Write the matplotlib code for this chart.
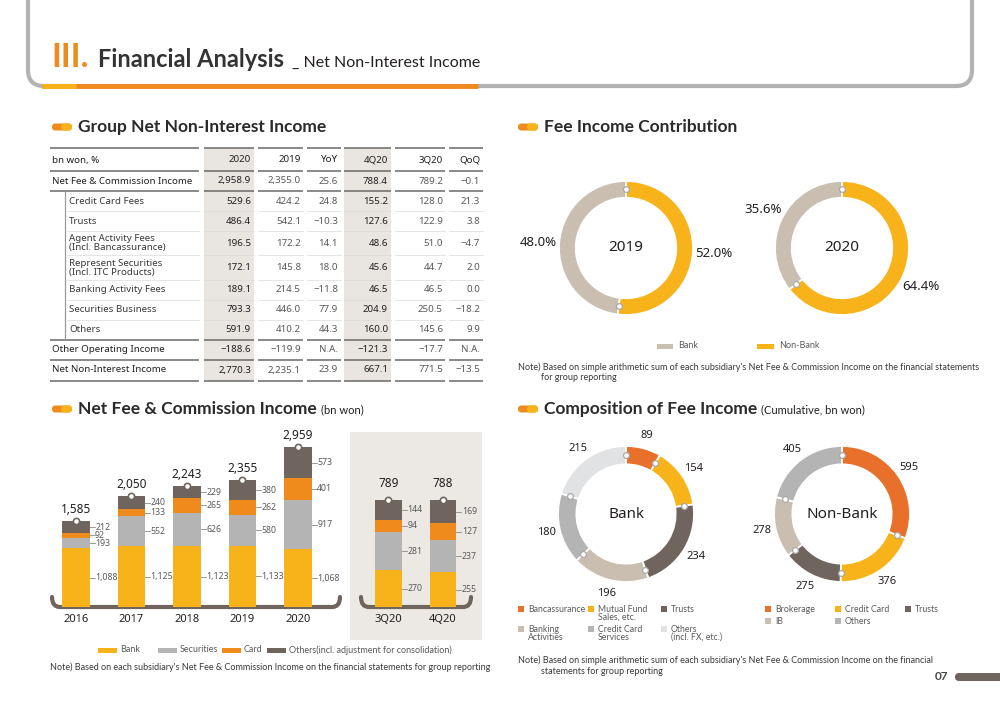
import matplotlib
matplotlib.use('Agg')
import matplotlib.pyplot as plt
from matplotlib.patches import Rectangle, FancyBboxPatch, PathPatch
from matplotlib.path import Path
import numpy as np

plt.rcParams['font.family'] = ['Noto Sans', 'DejaVu Sans']
HEAD = ['Lato', 'DejaVu Sans']

W, H = 1000, 707

YELLOW = '#f9b31a'
ORANGE = '#ef8a1d'
DEEP_ORANGE = '#e9702b'
GREY = '#b4b4b4'
DARK = '#6f655e'
BEIGE = '#c9beb0'
LIGHT = '#e1e2e4'
TXT = '#231f20'
SUB = '#5a5a5a'
PANEL = '#ece9e4'

# ---- table data ----
tbl_cols = ['2020', '2019', 'YoY', '4Q20', '3Q20', 'QoQ']
tbl_rows = ['Net Fee & Commission Income', 'Credit Card Fees', 'Trusts',
            'Agent Activity Fees\n(Incl. Bancassurance)',
            'Represent Securities\n(Incl. ITC Products)',
            'Banking Activity Fees', 'Securities Business', 'Others',
            'Other Operating Income', 'Net Non-Interest Income']
v2020 = ['2,958.9', '529.6', '486.4', '196.5', '172.1', '189.1', '793.3', '591.9', '−188.6', '2,770.3']
v2019 = ['2,355.0', '424.2', '542.1', '172.2', '145.8', '214.5', '446.0', '410.2', '−119.9', '2,235.1']
yoy = ['25.6', '24.8', '−10.3', '14.1', '18.0', '−11.8', '77.9', '44.3', 'N.A.', '23.9']
v4q20 = ['788.4', '155.2', '127.6', '48.6', '45.6', '46.5', '204.9', '160.0', '−121.3', '667.1']
v3q20 = ['789.2', '128.0', '122.9', '51.0', '44.7', '46.5', '250.5', '145.6', '−17.7', '771.5']
qoq = ['−0.1', '21.3', '3.8', '−4.7', '2.0', '0.0', '−18.2', '9.9', 'N.A.', '−13.5']
sub_rows = [1, 2, 3, 4, 5, 6, 7]

# ---- bar chart data ----
years = ['2016', '2017', '2018', '2019', '2020']
bank = [1088, 1125, 1123, 1133, 1068]
securities = [193, 552, 626, 580, 917]
card = [92, 133, 265, 262, 401]
others = [212, 240, 229, 380, 573]
totals = [1585, 2050, 2243, 2355, 2959]

quarters = ['3Q20', '4Q20']
q_bank = [270, 255]
q_securities = [281, 237]
q_card = [94, 127]
q_others = [144, 169]
q_totals = [789, 788]

seg_names = ['Bank', 'Securities', 'Card', 'Others(incl. adjustment for consolidation)']
seg_colors = [YELLOW, GREY, ORANGE, DARK]

# ---- donut data ----
contrib_names = ['Non-Bank', 'Bank']
contrib_2019 = [52.0, 48.0]
contrib_2020 = [64.4, 35.6]

bank_names = ['Bancassurance', 'Mutual Fund\nSales, etc.', 'Trusts',
              'Banking\nActivities', 'Credit Card\nServices', 'Others\n(incl. FX, etc.)']
bank_vals = [89, 154, 234, 196, 180, 215]
bank_cols = [DEEP_ORANGE, YELLOW, DARK, BEIGE, GREY, LIGHT]

nonbank_names = ['Brokerage', 'Credit Card', 'Trusts', 'IB', 'Others']
nonbank_vals = [595, 376, 275, 278, 405]
nonbank_cols = [DEEP_ORANGE, YELLOW, DARK, BEIGE, GREY]


def px_box(x0, y0, x1, y1):
    return [x0 / W, 1 - y1 / H, (x1 - x0) / W, (y1 - y0) / H]


fig = plt.figure(figsize=(10, 7.07), dpi=100)
bg = fig.add_axes([0, 0, 1, 1])
bg.set_xlim(0, W)
bg.set_ylim(H, 0)
bg.axis('off')

# ---- page header ----
bg.add_patch(FancyBboxPatch((28, -40), 944, 126, boxstyle='round,pad=0,rounding_size=16',
                            facecolor='white', edgecolor='#b3b3b3', lw=3))
bg.plot([42, 478], [85.5, 85.5], color=ORANGE, lw=3.5, solid_capstyle='butt')
bg.plot([42, 76], [85.5, 85.5], color=YELLOW, lw=3.5, solid_capstyle='butt')
bg.text(51, 67, 'III.', color=ORANGE, fontsize=24, fontweight='bold', va='baseline',
        family=HEAD)
bg.text(98, 67, 'Financial Analysis', color='#333333', fontsize=17, fontweight='bold',
        va='baseline', family=HEAD)
bg.text(292, 67, '_ Net Non-Interest Income', color=TXT, fontsize=11.5, va='baseline',
        family=HEAD)


def section(x, y, title, sub=None):
    bg.add_patch(FancyBboxPatch((x, y - 3.5), 20, 7, boxstyle='round,pad=0,rounding_size=3.5',
                                facecolor=ORANGE, edgecolor='none'))
    bg.add_patch(FancyBboxPatch((x + 9, y - 3.5), 11, 7, boxstyle='round,pad=0,rounding_size=3.5',
                                facecolor=YELLOW, edgecolor='none'))
    t = bg.text(x + 26, y, title, fontsize=12.5, color='#2a2a2a', va='center',
                fontweight='bold', family=HEAD)
    if sub:
        fig.canvas.draw()
        bb = t.get_window_extent()
        bg.text(bb.x1 + 4, y + 1, sub, fontsize=8, color=TXT, va='center', family=HEAD)


section(52, 127, 'Group Net Non-Interest Income')
section(518, 127, 'Fee Income Contribution')
section(52, 409, 'Net Fee & Commission Income', '(bn won)')
section(518, 409, 'Composition of Fee Income', '(Cumulative, bn won)')

# ---- table ----
col_right = [251, 301, 338, 388, 443, 480]
col_span = [(204, 254), (258, 303), (307, 341), (344, 391), (395, 445), (449, 483)]
row_y = [181, 201, 221, 243, 268, 290, 310, 330, 350, 370]
cols_data = [v2020, v2019, yoy, v4q20, v3q20, qoq]
bold_cols = [0, 3]

for ci in bold_cols:
    a, b = col_span[ci]
    bg.add_patch(Rectangle((a, 148), b - a, 233, facecolor='#e9e6e1', edgecolor='none'))

segments = [(50, 199)] + col_span
for yl in [148, 171, 191, 340, 360, 381]:
    for a, b in segments:
        bg.plot([a, b], [yl, yl], color='#6a6a6a', lw=1.1, solid_capstyle='butt')
for yl in [211, 231, 255, 280, 300, 320]:
    bg.plot([67, 199], [yl, yl], color='#dadada', lw=0.5)
    for a, b in col_span:
        bg.plot([a, b], [yl, yl], color='#dadada', lw=0.5)
bg.plot([65, 65], [192, 339], color='#9a9a9a', lw=0.9)

bg.text(52, 160, 'bn won, %', fontsize=7, color=TXT, va='center')
for ci, name in enumerate(tbl_cols):
    bg.text(col_right[ci], 160, name, fontsize=7, color=TXT, va='center', ha='right')
for ri, name in enumerate(tbl_rows):
    xl = 69 if ri in sub_rows else 52
    bg.text(xl, row_y[ri], name, fontsize=7, color=TXT if ri not in sub_rows else '#3a3a3a',
            va='center', linespacing=1.0)
    for ci in range(6):
        bold = ci in bold_cols
        bg.text(col_right[ci], row_y[ri], cols_data[ci][ri], fontsize=7, va='center', ha='right',
                color=TXT if bold else SUB, fontweight='bold' if bold else 'normal')

# ---- bar charts ----
bg.add_patch(Rectangle((350, 432), 132, 208, facecolor=PANEL, edgecolor='none'))


def bracket(x0, x1, y0=607, h=10):
    verts = [(x0, y0 - h), (x0, y0), (x0 + 8, y0), (x1 - 8, y0), (x1, y0), (x1, y0 - h)]
    codes = [Path.MOVETO, Path.CURVE3, Path.CURVE3, Path.LINETO, Path.CURVE3, Path.CURVE3]
    bg.add_patch(PathPatch(Path(verts, codes), facecolor='none', edgecolor=DARK, lw=3,
                           capstyle='round', zorder=1))


bracket(52, 340)
bracket(361, 471)


def stacked(box, labels, series, tots, ymax, xlim, lab_off):
    ax = fig.add_axes(px_box(*box))
    ax.patch.set_alpha(0)
    x = np.arange(len(labels))
    w = 0.49
    bottom = np.zeros(len(labels))
    for vals, col in zip(series, seg_colors):
        vals = np.array(vals, dtype=float)
        ax.bar(x, vals, width=w, bottom=bottom, color=col, zorder=2)
        for xi, b, v in zip(x, bottom, vals):
            ym = b + v / 2
            ax.plot([xi + w / 2, xi + w / 2 + 0.09], [ym, ym], color='#8a8a8a', lw=0.6)
            ax.text(xi + w / 2 + 0.1, ym, f'{int(v):,}', fontsize=6.3, color=SUB,
                    ha='left', va='center')
        bottom += vals
    ax.plot(x, tots, 'o', ms=4.5, mfc='white', mec=DARK, mew=1.2, zorder=3)
    for xi, t in zip(x, tots):
        ax.text(xi, t + lab_off, f'{t:,}', fontsize=8.5, fontweight='bold', color=TXT,
                ha='center', va='center')
    ax.set_ylim(0, ymax)
    ax.set_xlim(*xlim)
    ax.set_xticks(x)
    ax.set_xticklabels(labels, fontsize=8, fontweight='bold', color=TXT)
    ax.tick_params(length=0, pad=5)
    ax.set_yticks([])
    for s in ax.spines.values():
        s.set_visible(False)
    return ax


stacked((50, 430, 345, 607), years, [bank, securities, card, others], totals,
        3278, (-0.468, 4.847), 215)
stacked((350, 432, 482, 607), quarters, [q_bank, q_securities, q_card, q_others], q_totals,
        1290, (-0.706, 1.716), 125)

# bar legend
leg_x = [98, 158, 222, 267]
for xl, name, col in zip(leg_x, seg_names, seg_colors):
    bg.add_patch(Rectangle((xl, 647.5), 19, 5, facecolor=col, edgecolor='none'))
    bg.text(xl + 22, 650, name, fontsize=6.5, color=SUB, va='center', family=HEAD)
bg.text(50, 667, "Note) Based on each subsidiary's Net Fee & Commission Income on the financial "
        "statements for group reporting", fontsize=6.5, color='#3a3a3a', va='center',
        family=HEAD)


# ---- donuts ----
def donut(cx, cy, r_px, vals, cols, center_txt, labels, lab_dist, lab_size, ring):
    L = 1.6
    s = 2 * L * r_px
    ax = fig.add_axes(px_box(cx - s / 2, cy - s / 2, cx + s / 2, cy + s / 2))
    ax.patch.set_alpha(0)
    wedges, _ = ax.pie(vals, colors=cols, startangle=90, counterclock=False, radius=1,
                       wedgeprops=dict(width=ring, edgecolor='white', linewidth=1.3))
    ax.set_xlim(-L, L)
    ax.set_ylim(-L, L)
    ax.set_aspect('equal')
    rm = 1 - ring / 2
    for wd, lab in zip(wedges, labels):
        mid = np.deg2rad((wd.theta1 + wd.theta2) / 2)
        ax.text(lab_dist * np.cos(mid), lab_dist * np.sin(mid), lab, fontsize=lab_size,
                color=TXT, ha='center', va='center')
        t = np.deg2rad(wd.theta1)
        ax.plot(rm * np.cos(t), rm * np.sin(t), 'o', ms=4.2, mfc='white', mec='#a8a8a8',
                mew=0.9, zorder=5)
    ax.text(0, 0, center_txt, fontsize=11, color=TXT, ha='center', va='center')
    ax.axis('off')


donut(626, 248, 67, contrib_2019, [YELLOW, BEIGE], '2019',
      [f'{v:.1f}%' for v in contrib_2019], 1.31, 9.5, 0.25)
donut(842, 248, 67, contrib_2020, [YELLOW, BEIGE], '2020',
      [f'{v:.1f}%' for v in contrib_2020], 1.31, 9.5, 0.25)

bg.add_patch(Rectangle((657, 343.5), 16, 5, facecolor=BEIGE, edgecolor='none'))
bg.text(678, 346, 'Bank', fontsize=6.5, color=SUB, va='center', family=HEAD)
bg.add_patch(Rectangle((757, 343.5), 17, 5, facecolor=YELLOW, edgecolor='none'))
bg.text(779, 346, 'Non-Bank', fontsize=6.5, color=SUB, va='center', family=HEAD)
bg.text(518, 367, "Note) Based on simple arithmetic sum of each subsidiary's Net Fee & Commission "
        "Income on the financial statements", fontsize=6.5, color='#3a3a3a', va='center',
        family=HEAD)
bg.text(541, 378, 'for group reporting', fontsize=6.5, color='#3a3a3a', va='center',
        family=HEAD)

donut(626, 514, 68, bank_vals, bank_cols, 'Bank', [str(v) for v in bank_vals], 1.2, 8, 0.27)
donut(842, 514, 68, nonbank_vals, nonbank_cols, 'Non-Bank', [str(v) for v in nonbank_vals],
      1.2, 8, 0.27)

# composition legends
bank_leg_pos = [(518, 609), (588, 609), (661, 609), (518, 629), (588, 629), (661, 629)]
for (xl, yl), name, col in zip(bank_leg_pos, bank_names, bank_cols):
    bg.add_patch(Rectangle((xl, yl - 3), 6, 6, facecolor=col, edgecolor='none'))
    bg.text(xl + 10, yl - 4.5, name, fontsize=6.3, color=SUB, va='top', linespacing=0.9,
            family=HEAD)
nb_leg_pos = [(765, 609), (835, 609), (905, 609), (765, 621), (835, 621)]
for (xl, yl), name, col in zip(nb_leg_pos, nonbank_names, nonbank_cols):
    bg.add_patch(Rectangle((xl, yl - 3), 6, 6, facecolor=col, edgecolor='none'))
    bg.text(xl + 10, yl, name, fontsize=6.3, color=SUB, va='center', family=HEAD)

bg.text(518, 660, "Note) Based on simple arithmetic sum of each subsidiary's Net Fee & Commission "
        "Income on the financial", fontsize=6.5, color='#3a3a3a', va='center', family=HEAD)
bg.text(541, 672, 'statements for group reporting', fontsize=6.5, color='#3a3a3a',
        va='center', family=HEAD)

# page number
bg.text(948, 677, '07', fontsize=8.5, color='#444444', ha='right', va='center',
        fontweight='bold', family=HEAD)
bg.add_patch(FancyBboxPatch((955, 673), 60, 8, boxstyle='round,pad=0,rounding_size=4',
                            facecolor=DARK, edgecolor='none'))

fig.savefig('out.png', dpi=100)
